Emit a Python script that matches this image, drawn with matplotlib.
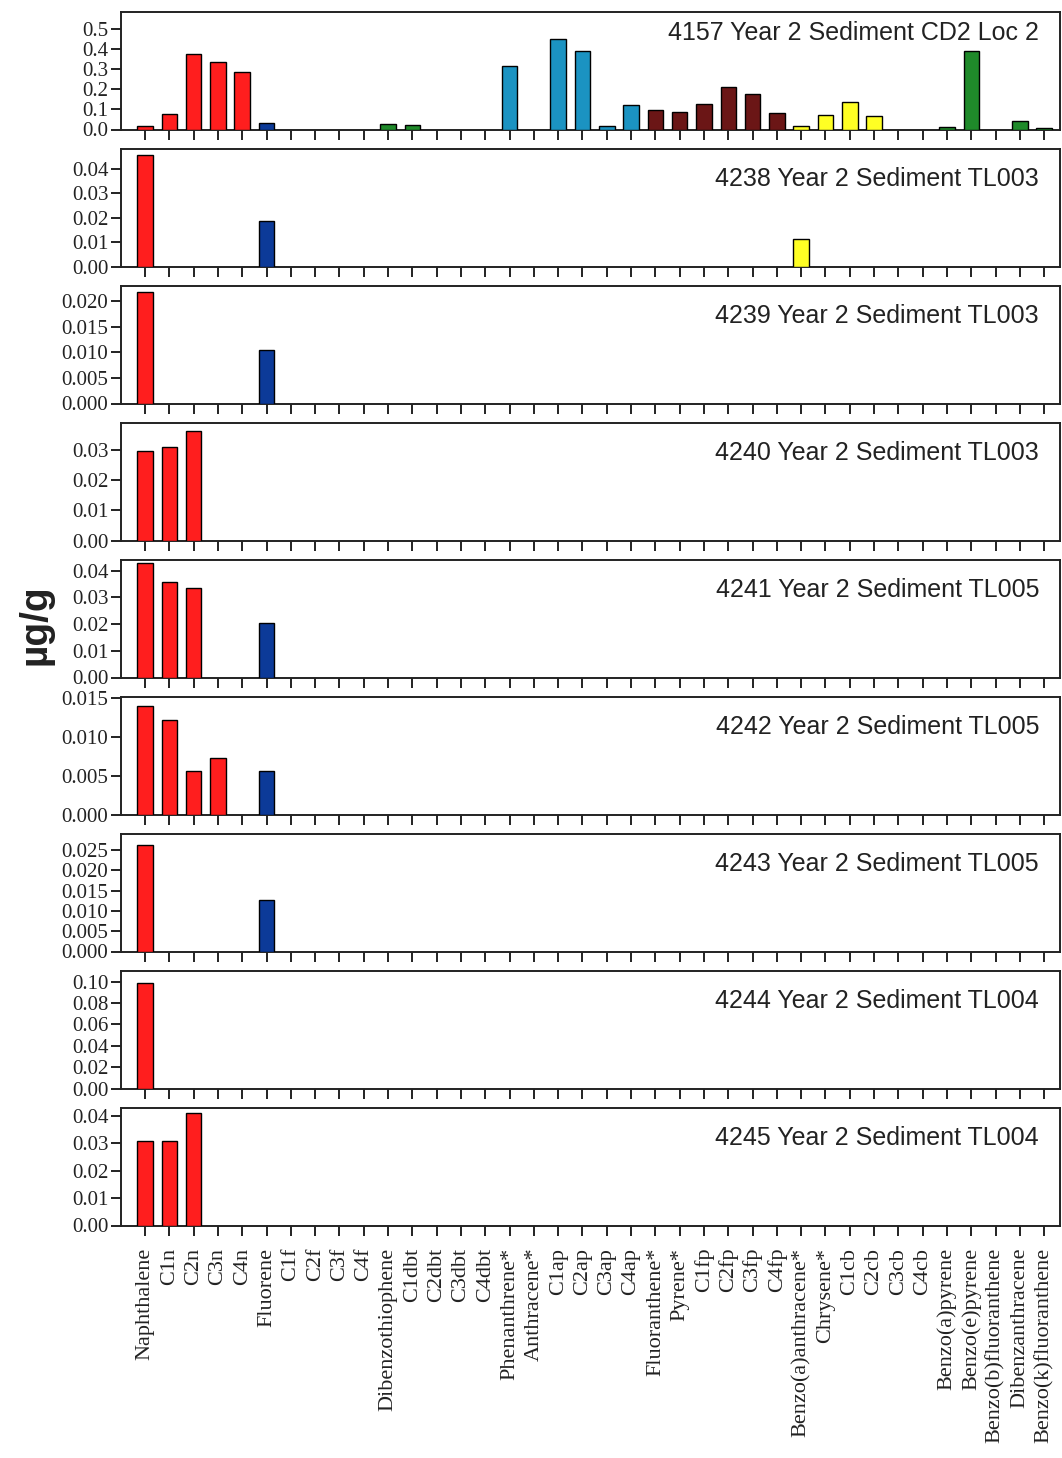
import matplotlib
matplotlib.use("Agg")
import matplotlib.pyplot as plt
from matplotlib.ticker import MultipleLocator, FormatStrFormatter

# PAH analytes in reporting order
compounds = [
    "Naphthalene", "C1n", "C2n", "C3n", "C4n",
    "Fluorene", "C1f", "C2f", "C3f", "C4f",
    "Dibenzothiophene", "C1dbt", "C2dbt", "C3dbt", "C4dbt",
    "Phenanthrene*", "Anthracene*", "C1ap", "C2ap", "C3ap", "C4ap",
    "Fluoranthene*", "Pyrene*", "C1fp", "C2fp", "C3fp", "C4fp",
    "Benzo(a)anthracene*", "Chrysene*", "C1cb", "C2cb", "C3cb", "C4cb",
    "Benzo(a)pyrene", "Benzo(e)pyrene", "Benzo(b)fluoranthene",
    "Dibenzanthracene", "Benzo(k)fluoranthene",
]

# colour of each compound family
family_colors = {
    "naphthalenes": "#ff1e1e",
    "fluorenes": "#0c3a98",
    "dibenzothiophenes": "#1f8a2a",
    "phenanthrenes": "#1b93c2",
    "fluoranthenes": "#6b1616",
    "chrysenes": "#ffff24",
    "heavy": "#1f8a2a",
}
family_sizes = [("naphthalenes", 5), ("fluorenes", 5), ("dibenzothiophenes", 5),
                ("phenanthrenes", 6), ("fluoranthenes", 6), ("chrysenes", 6),
                ("heavy", 5)]

sample_titles = [
    "4157 Year 2 Sediment CD2 Loc 2",
    "4238 Year 2 Sediment TL003",
    "4239 Year 2 Sediment TL003",
    "4240 Year 2 Sediment TL003",
    "4241 Year 2 Sediment TL005",
    "4242 Year 2 Sediment TL005",
    "4243 Year 2 Sediment TL005",
    "4244 Year 2 Sediment TL004",
    "4245 Year 2 Sediment TL004",
]

# concentrations (ug/g), one value per compound
s4157 = [0.015, 0.079, 0.374, 0.335, 0.285,
         0.034, 0, 0, 0, 0,
         0.029, 0.020, 0, 0, 0,
         0.315, 0, 0.450, 0.390, 0.015, 0.121,
         0.096, 0.088, 0.128, 0.214, 0.177, 0.082,
         0.019, 0.072, 0.136, 0.069, 0, 0,
         0.010, 0.390, 0, 0.042, 0.005]
s4238 = [0.0456, 0, 0, 0, 0,
         0.0185, 0, 0, 0, 0,
         0, 0, 0, 0, 0,
         0, 0, 0, 0, 0, 0,
         0, 0, 0, 0, 0, 0,
         0.0114, 0, 0, 0, 0, 0,
         0, 0, 0, 0, 0]
s4239 = [0.0218, 0, 0, 0, 0,
         0.0104] + [0] * 32
s4240 = [0.0297, 0.0308, 0.0363, 0, 0] + [0] * 33
s4241 = [0.0428, 0.0356, 0.0334, 0, 0,
         0.0203] + [0] * 32
s4242 = [0.01396, 0.01217, 0.00558, 0.00725, 0,
         0.00563] + [0] * 32
s4243 = [0.0262, 0, 0, 0, 0,
         0.0127] + [0] * 32
s4244 = [0.099, 0, 0, 0, 0] + [0] * 33
s4245 = [0.0309, 0.0307, 0.0411, 0, 0] + [0] * 33

samples = [s4157, s4238, s4239, s4240, s4241, s4242, s4243, s4244, s4245]

# y-axis settings per panel: upper limit, tick step, decimals
y_tops = [0.585, 0.048, 0.0229, 0.0389, 0.044, 0.0151, 0.0289, 0.110, 0.0429]
y_steps = [0.1, 0.01, 0.005, 0.01, 0.01, 0.005, 0.005, 0.02, 0.01]
y_decimals = [1, 2, 3, 2, 2, 3, 3, 2, 2]

bar_colors = []
for fam, n in family_sizes:
    bar_colors += [family_colors[fam]] * n

W, H = 1062, 1458
fig = plt.figure(figsize=(W / 100, H / 100), dpi=100)

serif = "Liberation Serif"
sans = "Liberation Sans"

left_px, right_px = 121, 1060
top0, period, height = 12, 137.0, 117.5
x = list(range(len(compounds)))

for i, (vals, title) in enumerate(zip(samples, sample_titles)):
    top = top0 + period * i
    ax = fig.add_axes([left_px / W, 1 - (top + height) / H,
                       (right_px - left_px) / W, height / H])
    nz = [k for k, v in enumerate(vals) if v > 0]
    ax.bar([x[k] for k in nz], [vals[k] for k in nz], width=0.64,
           color=[bar_colors[k] for k in nz], edgecolor="black",
           linewidth=1.0, zorder=3)
    ax.set_xlim(-0.99, 37.65)
    ax.set_ylim(0, y_tops[i])
    ax.yaxis.set_major_locator(MultipleLocator(y_steps[i]))
    ax.yaxis.set_major_formatter(FormatStrFormatter("%%.%df" % y_decimals[i]))
    ax.set_xticks(x)
    for sp in ax.spines.values():
        sp.set_linewidth(1.4)
        sp.set_color("#222222")
    ax.tick_params(axis="y", direction="out", length=7, width=1.4,
                   pad=2, labelsize=15, colors="#222222")
    ax.tick_params(axis="x", direction="out", length=7, width=1.4,
                   pad=9, labelsize=16, colors="#222222")
    for lab in ax.get_yticklabels():
        lab.set_fontfamily(serif)
    if i == len(samples) - 1:
        ax.set_xticklabels(compounds, rotation=90, fontfamily=serif,
                           ha="center", va="top")
    else:
        ax.set_xticklabels([])
    dy = 21 if i == 0 else 30
    ax.text((1039 - left_px) / (right_px - left_px), 1 - dy / height, title,
            transform=ax.transAxes, ha="right", va="center",
            fontsize=18, fontfamily=sans, color="#222222")

fig.text(35 / W, 1 - 625 / H, "µg/g", rotation=90, ha="center", va="center",
         fontsize=28, fontweight="bold", fontfamily=sans, color="#222222")

fig.savefig("out.png", dpi=100, facecolor="white")
